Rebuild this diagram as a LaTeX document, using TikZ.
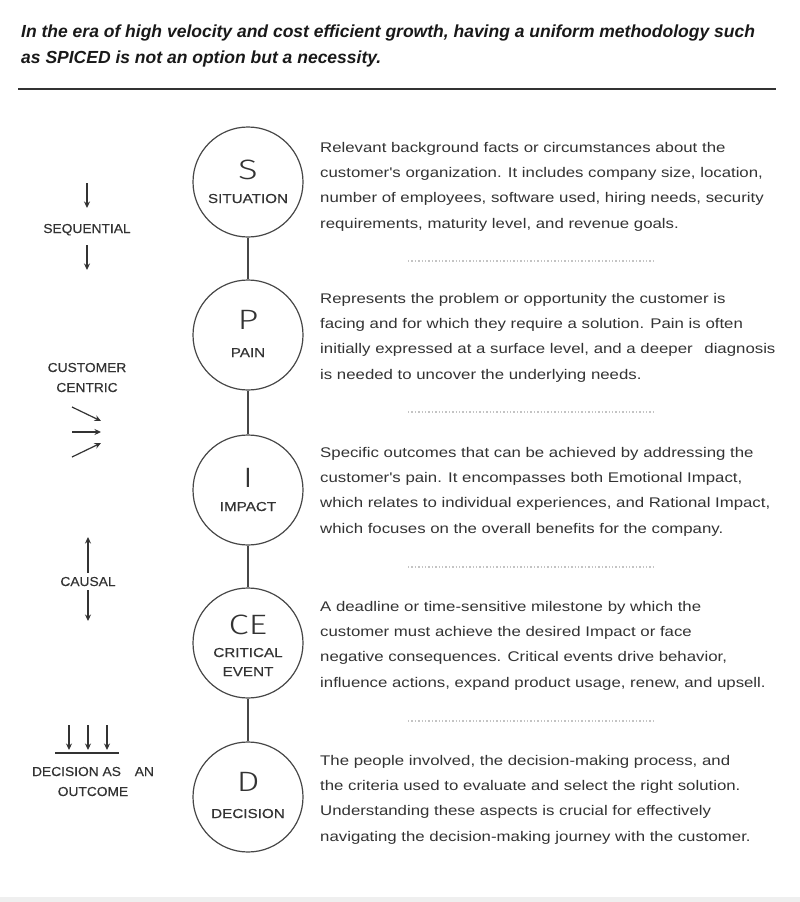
\documentclass[tikz,border=0pt]{standalone}
\usepackage{fontspec}
\setmainfont{Liberation Sans}
\newfontfamily\lightfont{Fira Sans Light}[FakeStretch=1.3]
\newfontfamily\bodyfont{Liberation Sans}[FakeStretch=1.2]
\newfontfamily\sidefont{Liberation Sans}[FakeStretch=1.06,FakeBold=0.3]
\newfontfamily\circfont{Liberation Sans}[FakeStretch=1.17,FakeBold=0.3]
\usetikzlibrary{arrows.meta}
\definecolor{txt}{HTML}{333333}
\definecolor{strk}{HTML}{474747}
\definecolor{sepc}{HTML}{C4C4C4}
\definecolor{band}{HTML}{EFEFEF}
\begin{document}
\begin{tikzpicture}[x=1pt,y=-1pt,
  title/.style={anchor=base west,inner sep=0,font=\fontsize{17.5}{19}\selectfont\bfseries\itshape,text=black!90},
  body/.style={anchor=base west,inner sep=0,font=\fontsize{14}{16}\selectfont\bodyfont,text=txt},
  circ/.style={circle,draw=strk,line width=1.2pt,minimum size=110pt,inner sep=0},
  letter/.style={anchor=base,inner sep=0,font=\fontsize{28}{30}\selectfont\lightfont,text=txt},
  clabel/.style={anchor=base,inner sep=0,font=\fontsize{13}{15}\selectfont\circfont,text=txt},
  side/.style={anchor=base,inner sep=0,font=\fontsize{13}{15}\selectfont\sidefont,text=txt},
  conn/.style={draw=strk,line width=1.2pt},
  sepline/.style={draw=sepc,line width=1.3pt,dash pattern=on 1.3pt off 2.1pt},
  arr/.style={draw=txt,line width=1.2pt,-{Stealth[length=6.5pt,width=6pt]}}
]
\useasboundingbox (0,0) rectangle (800,902);
\fill[white] (0,0) rectangle (800,902);
\fill[band] (0,897) rectangle (800,902);

% title
\node[title] (t1) at (21,37) {In the era of high velocity and cost efficient growth, having a uniform methodology such};
\node[title] (t2) at (21,63) {as SPICED is not an option but a necessity.};
\coordinate (rl) at (18,89);
\coordinate (rr) at (776,89);
\draw[line width=1.3pt,black!80] (rl) -- (rr);

% circles
\node[circ] (cS) at (248,182) {};
\node[circ] (cP) at (248,335) {};
\node[circ] (cI) at (248,490) {};
\node[circ] (cC) at (248,643) {};
\node[circ] (cD) at (248,797) {};
\draw[conn] (cS) -- (cP);
\draw[conn] (cP) -- (cI);
\draw[conn] (cI) -- (cC);
\draw[conn] (cC) -- (cD);

\node[letter] (lS) at (248,179) {S};
\node[clabel] (nS) at (248,203) {SITUATION};
\node[letter] (lP) at (248,329) {P};
\node[clabel] (nP) at (248,357) {PAIN};
\node[letter] (lI) at (248,487) {I};
\node[clabel] (nI) at (248,511) {IMPACT};
\node[letter] (lC) at (248,634) {CE};
\node[clabel] (nC1) at (248,657) {CRITICAL};
\node[clabel] (nC2) at (248,676) {EVENT};
\node[letter] (lD) at (248,791) {D};
\node[clabel] (nD) at (248,818) {DECISION};

% descriptions
\foreach \t [count=\i] in {{Relevant background facts or circumstances about the},
  {customer's organization. It includes company size, location,},
  {number of employees, software used, hiring needs, security},
  {requirements, maturity level, and revenue goals.}}
  \node[body] (s\i) at (320,{152+25.4*(\i-1)}) {\t};
\foreach \t [count=\i] in {{Represents the problem or opportunity the customer is},
  {facing and for which they require a solution. Pain is often},
  {initially expressed at a surface level, and a deeper\hspace{7pt} diagnosis},
  {is needed to uncover the underlying needs.}}
  \node[body] (p\i) at (320,{303+25.4*(\i-1)}) {\t};
\foreach \t [count=\i] in {{Specific outcomes that can be achieved by addressing the},
  {customer's pain. It encompasses both Emotional Impact,},
  {which relates to individual experiences, and Rational Impact,},
  {which focuses on the overall benefits for the company.}}
  \node[body] (i\i) at (320,{457+25.4*(\i-1)}) {\t};
\foreach \t [count=\i] in {{A deadline or time-sensitive milestone by which the},
  {customer must achieve the desired Impact or face},
  {negative consequences. Critical events drive behavior,},
  {influence actions, expand product usage, renew, and upsell.}}
  \node[body] (c\i) at (320,{611+25.4*(\i-1)}) {\t};
\foreach \t [count=\i] in {{The people involved, the decision-making process, and},
  {the criteria used to evaluate and select the right solution.},
  {Understanding these aspects is crucial for effectively},
  {navigating the decision-making journey with the customer.}}
  \node[body] (d\i) at (320,{765+25.4*(\i-1)}) {\t};

% dotted separators
\foreach \y [count=\i] in {261,412,567,721}{
  \coordinate (sa\i) at (408,\y);
  \coordinate (sb\i) at (655,\y);
  \draw[sepline] (sa\i) -- (sb\i);
}

% left: sequential
\node[side] (seq) at (87,233) {SEQUENTIAL};
\coordinate (q1a) at (87,183); \coordinate (q1b) at (87,208);
\coordinate (q2a) at (87,245); \coordinate (q2b) at (87,270);
\draw[arr] (q1a) -- (q1b);
\draw[arr] (q2a) -- (q2b);

% customer centric
\node[side] (cc1) at (87,372) {CUSTOMER};
\node[side] (cc2) at (87,392) {CENTRIC};
\coordinate (a1) at (72,407); \coordinate (b1) at (101,421);
\coordinate (a2) at (72,432); \coordinate (b2) at (101,432);
\coordinate (a3) at (72,457); \coordinate (b3) at (101,443);
\draw[arr] (a1) -- (b1);
\draw[arr] (a2) -- (b2);
\draw[arr] (a3) -- (b3);

% causal
\node[side] (cau) at (88,586) {CAUSAL};
\coordinate (u1) at (88,573); \coordinate (u2) at (88,537);
\coordinate (v1) at (88,590); \coordinate (v2) at (88,621);
\draw[arr] (u1) -- (u2);
\draw[arr] (v1) -- (v2);

% decision as an outcome
\foreach \x [count=\i] in {69,88,107}{
  \coordinate (o\i a) at (\x,725);
  \coordinate (o\i b) at (\x,750);
  \draw[arr] (o\i a) -- (o\i b);
}
\coordinate (ul) at (55,753); \coordinate (ur) at (119,753);
\draw[draw=txt,line width=1.1pt] (ul) -- (ur);
\node[side] (do1) at (93,776) {DECISION AS\hspace{10pt} AN};
\node[side] (do2) at (93,796) {OUTCOME};
\end{tikzpicture}
\end{document}
